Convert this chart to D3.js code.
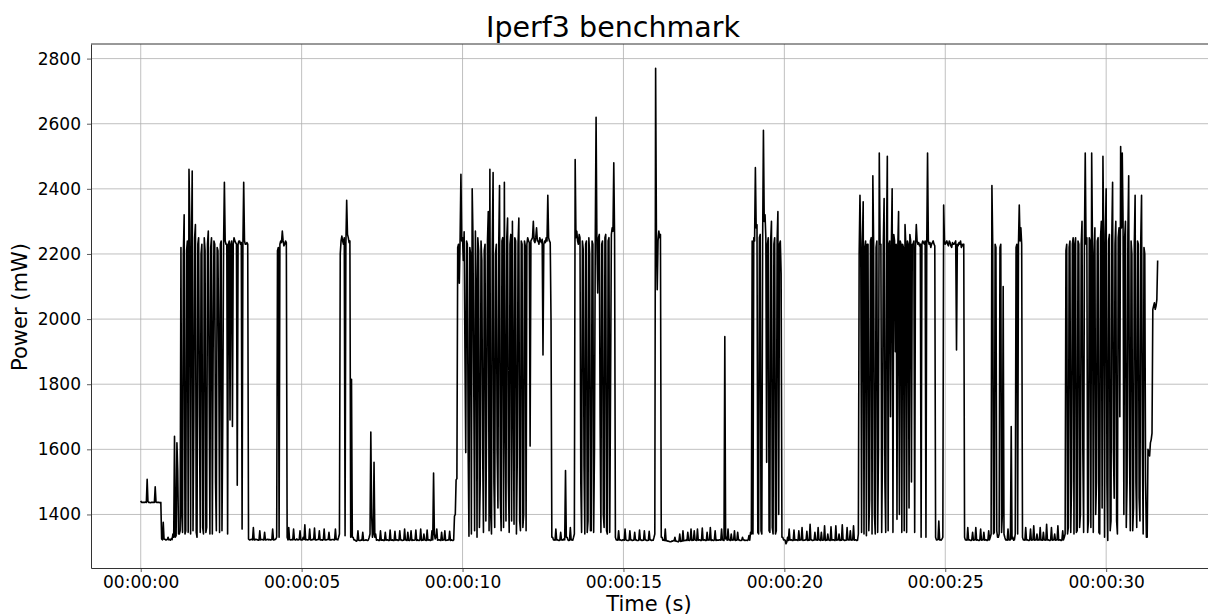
<!DOCTYPE html>
<html>
<head>
<meta charset="utf-8">
<script src="https://cdn.jsdelivr.net/npm/d3@7"></script>
<style>
  body { margin: 0; background: #fff; }
  text { font-family: "DejaVu Sans", sans-serif; fill: #000; }
</style>
</head>
<body>
<div id="chart"></div>
<script>
// power readings; one row = one second
var sampleStep = 0.05;
// samples at 0.00, 0.05, 0.10 ... s
var powerMw = [
  1442,1437,1437,1438,1508,1437,1436,1437,1437,1485,1437,1437,1436,1325,1376,1324,1322,1330,1323,1326,
  1340,1640,1335,1535,1340,2220,1345,2320,1350,2240,2460,1340,2455,1690,2290,1330,2250,1345,2230,1340,
  2210,1360,2270,1340,2250,1890,2230,1350,2210,1345,2240,1700,2420,2230,1340,2240,2230,1670,2250,2235,
  1490,2240,2230,1355,2420,2230,2235,1325,1322,1324,1360,1322,1323,1321,1350,1323,1322,1345,1322,1324,
  1323,1322,1355,1322,1325,2210,1330,2240,2270,2225,2240,1330,1360,1322,1323,1355,1322,1325,1322,1350,
  1322,1330,1368,1323,1322,1355,1322,1324,1358,1322,1323,1350,1322,1321,1355,1322,1323,1345,1322,1323,
  1322,1355,1323,1330,2200,2255,2230,1335,2365,2250,2240,1815,1330,1322,1318,1350,1320,1322,1345,1321,
  1322,1320,1330,1653,1330,1560,1340,1322,1320,1350,1321,1320,1345,1322,1320,1352,1321,1320,1348,1322,
  1320,1350,1322,1321,1355,1322,1345,1320,1350,1322,1321,1352,1322,1320,1355,1322,1340,1321,1352,1322,
  1320,1350,1527,1325,1355,1322,1321,1345,1322,1350,1321,1322,1348,1322,1320,1395,1506,2220,2110,2445,
  2250,2268,1590,2230,1333,2200,2400,1780,2270,1330,2210,1500,2180,1345,2230,1700,2330,2460,1340,2450,
  1360,2230,1420,2410,1350,2250,2420,1380,2310,1345,2260,2300,1370,2240,1560,2310,1350,2230,1400,2225,
  2230,2240,1610,2245,2300,2235,2280,2240,2250,2235,1890,2240,2250,2380,2240,1992,1330,1322,1355,1322,
  1320,1345,1322,1325,1535,1330,1320,1360,1322,1330,2490,2270,2230,2250,1345,2215,1340,2240,1380,2200,
  1350,2230,1600,2620,2080,2260,1345,2240,1360,2260,1340,2250,1800,2280,2480,1330,1322,1350,1322,1320,
  1322,1355,1321,1320,1350,1322,1321,1345,1322,1320,1352,1322,1321,1350,1322,1320,1348,1322,1321,1330,
  2770,2090,2270,2260,1330,1322,1355,1320,1318,1316,1318,1320,1330,1318,1316,1340,1318,1350,1320,1322,
  1345,1320,1355,1322,1350,1321,1355,1322,1320,1358,1322,1320,1345,1322,1360,1322,1320,1350,1322,1321,
  1322,1355,1322,1946,1330,1355,1322,1340,1322,1350,1321,1345,1322,1320,1330,1322,1321,1320,1335,1345,
  2240,2250,2465,2290,1340,2260,1340,2580,2320,1560,2250,1345,2300,1340,2250,1350,2330,2230,2140,1330,
  1322,1310,1330,1355,1322,1320,1352,1322,1321,1350,1322,1360,1321,1322,1348,1322,1370,1322,1321,1345,
  1322,1360,1322,1345,1321,1365,1322,1340,1321,1362,1322,1321,1365,1322,1340,1322,1368,1322,1321,1360,
  1322,1350,1322,1365,1322,1320,1340,2380,1345,2360,2220,1335,2230,1445,2250,2440,1400,2220,1345,2510,
  2230,1600,2370,1345,2500,2230,1700,2400,2260,1900,1385,2330,2240,1345,2220,2290,1345,2230,2260,1500,
  2230,1345,2290,2230,2225,1330,2240,2230,1330,2510,2230,2220,2235,2230,1330,1322,1380,1322,1325,2350,
  2230,2240,2225,2235,2220,2230,2235,1905,2225,2230,2220,2225,1330,1322,1360,1322,1320,1345,1322,1360,
  1322,1320,1355,1322,1345,1322,1320,1350,1330,2410,1340,2230,1350,1330,2220,1345,2100,1330,1322,1355,
  1322,1670,1330,1322,2220,1340,2350,2280,1330,1322,1360,1322,1320,1355,1322,1365,1322,1340,1322,1360,
  1322,1345,1322,1370,1322,1320,1360,1322,1340,1322,1365,1322,1320,1350,1330,2210,1340,2220,1345,2230,
  1340,2250,1350,2230,1400,2300,1345,2510,2250,1380,2240,2510,1345,2280,1500,2250,1340,2300,2500,1330,
  2400,1320,2260,1380,2420,1450,2300,1340,2280,2530,2510,1400,2300,1500,2440,1350,2200,1420,2380,1360,
  2230,1380,2380,1340,2200,1330,1600,1580,1630,2030,2050,2040,2180
];
// samples half way between, at 0.025, 0.075 ... s
var midMw = [
  1437,1437,1437,1437,1440,1437,1437,1437,1437,1438,1437,1437,1437,1322,1324,1322,1323,1322,1321,1323,
  1330,1330,1620,1340,1350,1400,2200,1340,2210,1345,2300,2200,1350,2250,1345,2230,1700,2200,1360,2250,
  1345,2230,1800,2220,1340,2240,1500,2220,1900,2230,1350,2230,2240,2230,2230,1690,2240,2230,2240,2230,
  2230,2240,2235,2225,2240,2230,2230,1322,1323,1322,1322,1324,1322,1321,1322,1323,1322,1322,1323,1322,
  1322,1323,1322,1323,1330,2220,2230,2235,2240,2230,2235,1322,1323,1322,1322,1323,1322,1322,1323,1322,
  1322,1323,1322,1322,1323,1322,1322,1323,1322,1322,1323,1322,1322,1323,1322,1322,1323,1322,1322,1323,
  1322,1323,1322,1340,2240,2240,2250,2230,2260,2235,1330,1330,1322,1320,1320,1321,1320,1321,1320,1321,
  1321,1322,1340,1400,1340,1330,1321,1322,1320,1321,1322,1320,1321,1322,1320,1321,1322,1320,1321,1322,
  1321,1322,1320,1321,1322,1320,1321,1322,1320,1321,1322,1320,1321,1322,1320,1321,1322,1320,1321,1322,
  1321,1322,1340,1330,1321,1322,1320,1321,1322,1320,1321,1322,1320,1321,1322,1400,1510,2230,2250,2240,
  2180,1900,2240,1600,2220,1340,2250,1350,2100,2250,1360,2240,1600,2210,1380,2240,1350,1400,2230,1500,
  2200,1600,2230,1450,2240,1360,1700,2250,1500,2230,1380,1800,2250,1340,2230,1380,2240,1360,2240,1350,
  2250,2235,2240,2250,2240,2250,2240,2230,2240,2245,2230,2235,2240,2250,2235,1330,1322,1321,1322,1321,
  1321,1322,1321,1322,1330,1322,1321,1322,1321,1340,2250,2240,2260,1500,2240,1550,2230,1345,2250,1350,
  2240,1345,2250,2240,2250,1700,2230,1400,2250,1350,2240,1345,2260,2270,2250,1322,1321,1322,1321,1322,
  1321,1322,1320,1321,1322,1320,1321,1322,1320,1321,1322,1320,1321,1322,1320,1321,1322,1320,1321,1340,
  2260,2240,2250,1330,1321,1320,1319,1318,1317,1316,1318,1319,1318,1317,1318,1317,1318,1319,1320,1320,
  1321,1322,1320,1321,1322,1320,1321,1322,1320,1321,1322,1320,1321,1322,1320,1321,1322,1320,1321,1322,
  1321,1322,1320,1325,1321,1322,1320,1321,1322,1320,1321,1322,1320,1321,1322,1320,1321,1322,1321,1340,
  1340,2240,2280,1345,2250,1350,2230,2300,2250,2230,1350,2240,1360,2230,1340,2240,1400,2240,1330,1322,
  1321,1315,1320,1321,1322,1320,1321,1322,1320,1321,1322,1320,1321,1322,1320,1321,1322,1320,1321,1322,
  1321,1322,1320,1321,1322,1320,1321,1322,1320,1321,1322,1320,1321,1322,1320,1321,1322,1320,1321,1322,
  1322,1321,1322,1321,1322,1321,2200,2220,2230,1340,2240,2230,1350,2240,1340,2230,1340,2240,1600,2230,
  1345,2230,1500,2240,1350,2240,2220,1345,2240,2230,2220,1400,2230,2230,1350,2230,2240,1420,2240,2230,
  2240,2220,2240,2235,2230,2230,2235,2240,2230,2240,2235,2230,2240,2225,1322,1323,1322,1321,1330,2240,
  2235,2230,2240,2225,2235,2230,2240,2230,2235,2240,2230,2230,1322,1321,1322,1321,1322,1321,1322,1321,
  1321,1322,1321,1322,1321,1322,1321,1322,1340,2230,1345,2220,1330,1340,2230,1400,1340,1322,1321,1322,
  1322,1325,1321,1340,2230,2230,2240,2230,1322,1321,1322,1321,1322,1321,1322,1321,1322,1321,1322,1321,
  1321,1322,1321,1322,1321,1322,1321,1322,1321,1322,1321,1322,1321,1322,1340,2230,1360,2240,1500,2250,
  2230,1345,2240,1360,2230,1600,2240,2230,1345,2250,1360,2230,2200,1400,2240,1345,2250,1420,2230,2260,
  1500,2240,1350,2250,1600,2230,1380,2250,1700,2280,2300,2250,1360,2260,1600,2240,1350,2230,1500,2240,
  1450,2240,1600,2220,1500,1330,1590,1620,1650,2040,2030,2060
];
var xTicks = [0, 5, 10, 15, 20, 25, 30];
var yTicks = [1400, 1600, 1800, 2000, 2200, 2400, 2600, 2800];

// interleave the two sets into one trace
var samples = [];
powerMw.forEach(function(v, i) {
    samples.push([i * sampleStep, v]);
    if (i < midMw.length) samples.push([i * sampleStep + sampleStep / 2, midMw[i]]);
});

var svgWidth = 1208;
var svgHeight = 615;
var margin = {top: 44, left: 91};
var width = 1122;   // right spine falls just outside the picture
var height = 524;

var svg = d3.select("#chart").append("svg")
    .attr("width", svgWidth)
    .attr("height", svgHeight);

var chartGroup = svg.append("g")
    .attr("transform", `translate(${margin.left}, ${margin.top})`);

// 0 s sits at x=140.7 and 30 s at x=1106.3, as in the reference
var xScale = d3.scaleLinear().domain([-1.545, 33.32]).range([0, width]);
var yScale = d3.scaleLinear().domain([1235.6, 2844.8]).range([height, 0]);

function hms(s) {
    var pad = n => String(n).padStart(2, "0");
    return pad(Math.floor(s / 3600)) + ":" + pad(Math.floor(s / 60) % 60) + ":" + pad(s % 60);
}

// grid
chartGroup.append("g").selectAll("line").data(xTicks).enter().append("line")
    .attr("x1", d => xScale(d)).attr("x2", d => xScale(d))
    .attr("y1", 0).attr("y2", height)
    .attr("stroke", "#b0b0b0").attr("stroke-width", 0.8);
chartGroup.append("g").selectAll("line").data(yTicks).enter().append("line")
    .attr("x1", 0).attr("x2", width)
    .attr("y1", d => yScale(d)).attr("y2", d => yScale(d))
    .attr("stroke", "#b0b0b0").attr("stroke-width", 0.8);

// the trace
var line = d3.line()
    .x(d => xScale(d[0]))
    .y(d => yScale(d[1]));

chartGroup.append("path")
    .datum(samples)
    .attr("d", line)
    .attr("fill", "none")
    .attr("stroke", "#000")
    .attr("stroke-width", 1.6)
    .attr("stroke-linejoin", "round");

// axes
var bottomAxis = d3.axisBottom(xScale).tickValues(xTicks).tickFormat(hms)
    .tickSize(4).tickSizeOuter(0).tickPadding(4);
var leftAxis = d3.axisLeft(yScale).tickValues(yTicks).tickFormat(d3.format("d"))
    .tickSize(4).tickSizeOuter(0).tickPadding(6);

var gx = chartGroup.append("g").attr("transform", `translate(0, ${height})`).call(bottomAxis);
var gy = chartGroup.append("g").call(leftAxis);
[gx, gy].forEach(g => {
    g.selectAll("text").attr("font-size", 17).attr("font-family", "DejaVu Sans").attr("fill", "#000");
    g.selectAll("line").attr("stroke", "#333").attr("stroke-width", 0.8);
    g.select(".domain").attr("stroke", "#333").attr("stroke-width", 1);
});

chartGroup.append("line")
    .attr("x1", 0).attr("x2", width).attr("y1", 0).attr("y2", 0)
    .attr("stroke", "#333").attr("stroke-width", 1);

// titles
svg.append("text")
    .attr("x", 613).attr("y", 37)
    .attr("text-anchor", "middle")
    .attr("font-size", 28.5)
    .text("Iperf3 benchmark");

svg.append("text")
    .attr("x", 649).attr("y", 611)
    .attr("text-anchor", "middle")
    .attr("font-size", 21)
    .text("Time (s)");

svg.append("text")
    .attr("transform", "translate(27, 307) rotate(-90)")
    .attr("text-anchor", "middle")
    .attr("font-size", 21)
    .text("Power (mW)");
</script>
</body>
</html>
